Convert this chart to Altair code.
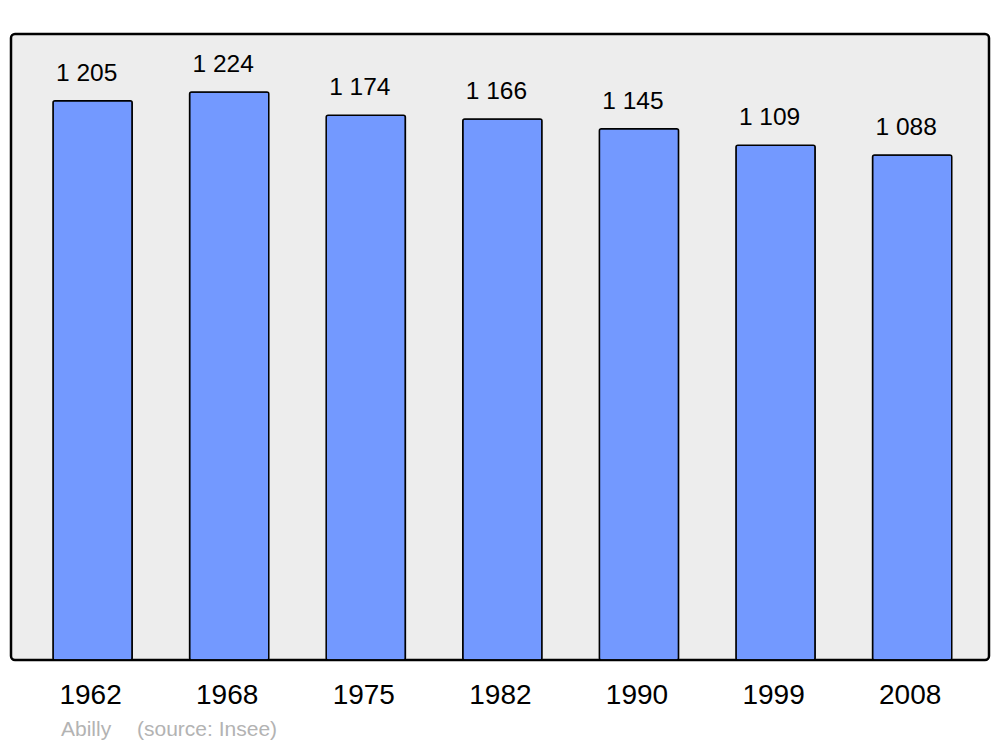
import altair as alt
import pandas as pd

years = ["1962", "1968", "1975", "1982", "1990", "1999", "2008"]
population = [1205, 1224, 1174, 1166, 1145, 1109, 1088]
labels = ["1 205", "1 224", "1 174", "1 166", "1 145", "1 109", "1 088"]
town = "Abilly"
source = "(source: Insee)"

df = pd.DataFrame({"year": years, "pop": population, "label": labels})

FONT = "Liberation Sans"

x = alt.X("year:N", sort=years,
          scale=alt.Scale(paddingInner=0.42, paddingOuter=0.29, align=0.53),
          axis=alt.Axis(title=None, labelAngle=0, labelFontSize=28, labelFont=FONT,
                        labelColor="black", labelBaseline="alphabetic",
                        labelPadding=43, labelOffset=-2, ticks=False, domain=False,
                        grid=False))
y = alt.Y("pop:Q", scale=alt.Scale(domain=[0, 1349], nice=False, zero=True), axis=None)

bars = alt.Chart(df).mark_bar(color="#7399FF", stroke="black", strokeWidth=1.5,
                              cornerRadius=2).encode(x=x, y=y)

text = alt.Chart(df).mark_text(fontSize=24.5, font=FONT, color="black",
                               baseline="alphabetic", dy=-20, dx=-6).encode(
    x=alt.X("year:N", sort=years), y="pop:Q", text="label:N")

cap1 = alt.Chart(pd.DataFrame({"t": [town]})).mark_text(
    fontSize=21, font=FONT, color="#B3B3B3", align="left", baseline="alphabetic").encode(
    x=alt.value(50), y=alt.value(702), text="t:N")
cap2 = alt.Chart(pd.DataFrame({"t": [source]})).mark_text(
    fontSize=21, font=FONT, color="#B3B3B3", align="left", baseline="alphabetic").encode(
    x=alt.value(126), y=alt.value(702), text="t:N")

chart = alt.layer(bars, text, cap1, cap2).properties(
    width=978, height=626,
    autosize=alt.AutoSizeParams(type="none"),
    padding={"left": 3, "top": 26, "right": 3, "bottom": 84},
    background="white",
).configure_view(fill="#EDEDED", stroke="black", strokeWidth=2.5, cornerRadius=4)

chart.save("out.html", embed_options={"renderer": "svg", "actions": False})
